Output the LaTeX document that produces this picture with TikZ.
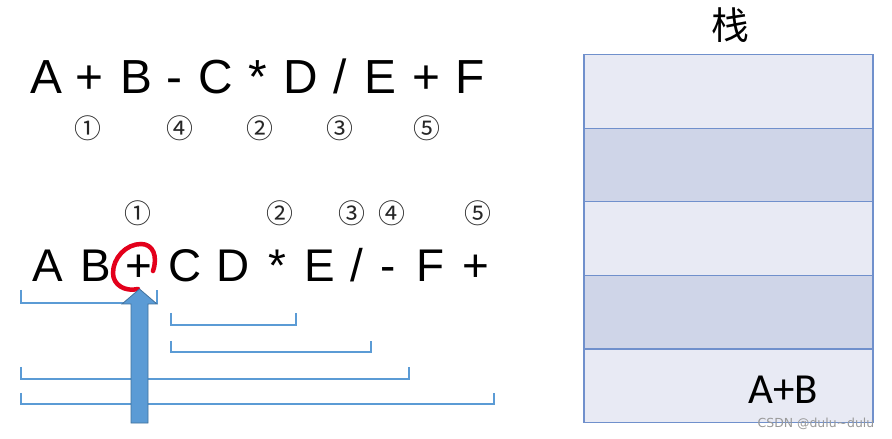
\documentclass[tikz,border=0pt]{standalone}
\usepackage{fontspec}
\setmainfont{Liberation Sans}
\newfontfamily\circfont{Noto Sans CJK SC}
\newfontfamily\cjkfont{Noto Sans CJK SC}
\newfontfamily\calfont{Carlito}
\newfontfamily\wmfont{DejaVu Sans}
\definecolor{rowlight}{HTML}{E8EAF4}
\definecolor{rowdark}{HTML}{CFD5E8}
\definecolor{rowedge}{HTML}{7090CC}
\definecolor{brblue}{HTML}{5B9BD5}
\definecolor{arrowedge}{HTML}{41719C}
\definecolor{markred}{HTML}{E3001B}
\begin{document}
\begin{tikzpicture}[x=1bp,y=-1bp,
  bigA/.style={anchor=base,inner sep=0pt,font=\fontsize{48}{48}\selectfont},
  bigB/.style={anchor=base,inner sep=0pt,font=\fontsize{46}{46}\selectfont},
  circ/.style={inner sep=0pt,text=black!85,font=\circfont\fontsize{27}{27}\selectfont},
  stackrow/.style={draw=rowedge,line width=1.2bp,minimum width=289bp,minimum height=73.6bp,inner sep=0pt},
  bracket/.style={draw=brblue,line width=2bp},
]
\useasboundingbox (0,0) rectangle (892,439);
% top expression
\node[bigA] (t1) at (46,94) {A};
\node[bigA] (t2) at (89,94) {+};
\node[bigA] (t3) at (136,94) {B};
\node[bigA] (t4) at (174,94) {-};
\node[bigA] (t5) at (216,94) {C};
\node[bigA] (t6) at (258,94) {*};
\node[bigA] (t7) at (301,94) {D};
\node[bigA] (t8) at (340,94) {/};
\node[bigA] (t9) at (380,94) {E};
\node[bigA] (t10) at (426,94) {+};
\node[bigA] (t11) at (470,94) {F};
% circled numbers row 1
\node[circ] (c1) at (88,128) {①};
\node[circ] (c4) at (180,128) {④};
\node[circ] (c2) at (260,128) {②};
\node[circ] (c3) at (340,128) {③};
\node[circ] (c5) at (427,128) {⑤};
% circled numbers row 2
\node[circ] (d1) at (138,213) {①};
\node[circ] (d2) at (280,213) {②};
\node[circ] (d3) at (352,213) {③};
\node[circ] (d4) at (392,213) {④};
\node[circ] (d5) at (478,213) {⑤};
% postfix expression
\node[bigB] (p1) at (48,282) {A};
\node[bigB] (p2) at (96,282) {B};
\node[bigB] (p3) at (139,282) {+};
\node[bigB] (p4) at (185,282) {C};
\node[bigB] (p5) at (233,282) {D};
\node[bigB] (p6) at (277,282) {*};
\node[bigB] (p7) at (320,282) {E};
\node[bigB] (p8) at (357,282) {/};
\node[bigB] (p9) at (388,282) {-};
\node[bigB] (p10) at (430,282) {F};
\node[bigB] (p11) at (476,282) {+};
% brackets
\draw[bracket] (21,290) -- (21,303) -- (157,303) -- (157,290);
\draw[bracket] (171,313) -- (171,325) -- (296,325) -- (296,313);
\draw[bracket] (171,341) -- (171,352) -- (371,352) -- (371,341);
\draw[bracket] (21,367) -- (21,379) -- (409,379) -- (409,367);
\draw[bracket] (21,393) -- (21,404) -- (494,404) -- (494,393);
% red mark (hand drawn loop)
\draw[markred,line width=4.5bp,line cap=round]
  (153,271) .. controls (158,256) and (153,244) .. (141,244)
  .. controls (126,244) and (113,258) .. (113,273)
  .. controls (113,285) and (125,292) .. (138,289);
% arrow
\draw[fill=brblue,draw=arrowedge,line width=0.8bp] (131,423) -- (131,304) -- (122,304) -- (139.5,289) -- (157,304) -- (148,304) -- (148,423) -- cycle;
% stack
\node[font=\cjkfont\fontsize{38}{38}\selectfont,inner sep=0pt] (lbl) at (730,25) {栈};
\node[stackrow,fill=rowlight] (s1) at (728.5,91.5) {};
\node[stackrow,fill=rowdark] (s2) at (728.5,165.1) {};
\node[stackrow,fill=rowlight] (s3) at (728.5,238.7) {};
\node[stackrow,fill=rowdark] (s4) at (728.5,312.3) {};
\node[stackrow,fill=rowlight] (s5) at (728.5,385.9) {};
\node[inner sep=0pt,font=\calfont\fontsize{43}{43}\selectfont] (ab) at (783,390) {A+B};
\node[inner sep=0pt,text=gray!80,font=\wmfont\fontsize{12.5}{12.5}\selectfont] (wm) at (816,424) {CSDN @dulu\char"223C dulu};
\end{tikzpicture}
\end{document}
